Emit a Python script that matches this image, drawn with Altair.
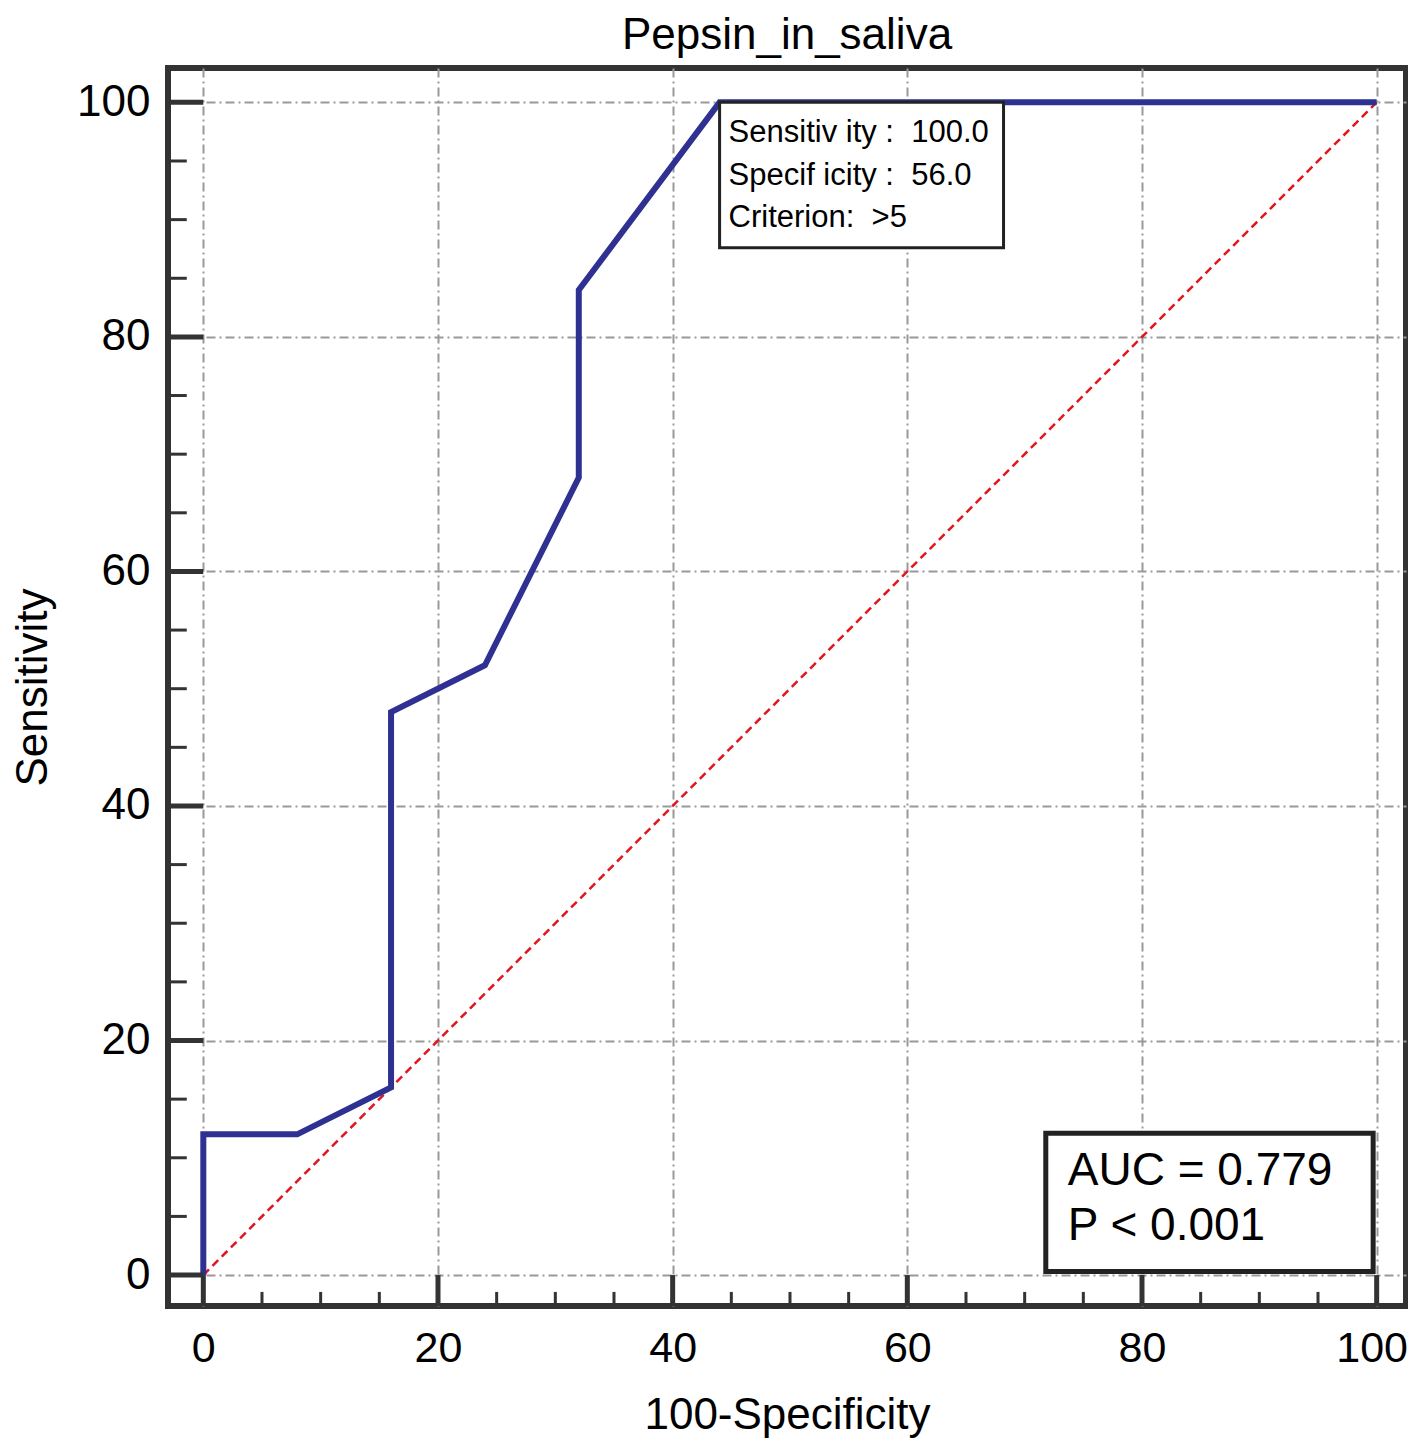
import altair as alt
import pandas as pd

# ---- data ----
fpr = [0, 0, 8, 16, 16, 24, 32, 32, 44, 100]
tpr = [0, 12, 12, 16, 48, 52, 68, 84, 100, 100]
diag_x = [0, 100]
diag_y = [0, 100]
major_ticks = [0, 20, 40, 60, 80, 100]
minor_ticks = [5, 10, 15, 25, 30, 35, 45, 50, 55, 65, 70, 75, 85, 90, 95]
info_lines = ["Sensitiv ity :\u00a0 100.0", "Specif icity :\u00a0 56.0", "Criterion:\u00a0 >5"]
auc_lines = ["AUC = 0.779", "P < 0.001"]
chart_title = "Pepsin_in_saliva"
x_title = "100-Specificity"
y_title = "Sensitivity"

# ---- layout / style constants ----
FONT = "Liberation Sans"
XMIN, XMAX = -3.01, 102.50
YMIN, YMAX = -2.64, 102.93
W, H = 1238, 1238
FRAME = "#333333"

xs = alt.Scale(domain=[XMIN, XMAX], nice=False, zero=False)
ys = alt.Scale(domain=[YMIN, YMAX], nice=False, zero=False)
xaxis = alt.Axis(values=major_ticks, grid=True, ticks=False, domain=False,
                 title=x_title, labelPadding=21, titlePadding=23,
                 labelOffset={"condition": {"test": "datum.value === 100", "value": -5}, "value": 0},
                 labelFontSize=43, titleFontSize=44, labelFont=FONT, titleFont=FONT,
                 titleFontWeight="normal", labelColor="black", titleColor="black",
                 gridColor="#999999", gridWidth=2, gridDash=[9, 4, 2, 4])
yaxis = alt.Axis(values=major_ticks, grid=True, ticks=False, domain=False,
                 title=y_title, labelPadding=18, titlePadding=21,
                 labelFontSize=44, titleFontSize=44, labelFont=FONT, titleFont=FONT,
                 titleFontWeight="normal", labelColor="black", titleColor="black",
                 gridColor="#999999", gridWidth=2, gridDash=[9, 4, 2, 4])


def X(f, **kw):
    return alt.X(f, scale=xs, axis=xaxis, **kw)


def Y(f, **kw):
    return alt.Y(f, scale=ys, axis=yaxis, **kw)


roc_df = pd.DataFrame({"x": fpr, "y": tpr, "step": list(range(len(fpr)))})
diag_df = pd.DataFrame({"x": diag_x, "y": diag_y})

xmaj = pd.DataFrame({"x": major_ticks, "y": [YMIN] * len(major_ticks), "y2": [0] * len(major_ticks)})
xmin_ = pd.DataFrame({"x": minor_ticks, "y": [YMIN] * len(minor_ticks), "y2": [YMIN + 1.2] * len(minor_ticks)})
ymaj = pd.DataFrame({"y": major_ticks, "x": [XMIN] * len(major_ticks), "x2": [0] * len(major_ticks)})
ymin_ = pd.DataFrame({"y": minor_ticks, "x": [XMIN] * len(minor_ticks), "x2": [XMIN + 1.6] * len(minor_ticks)})

base_grid = alt.Chart(roc_df).mark_point(opacity=0).encode(x=X("x:Q"), y=Y("y:Q"))

diag = alt.Chart(diag_df).mark_line(color="#e3141b", strokeWidth=2.5, strokeDash=[8, 5]).encode(
    x=X("x:Q"), y=Y("y:Q"))

roc = alt.Chart(roc_df).mark_line(color="#2e3192", strokeWidth=6, strokeJoin="miter").encode(
    x=X("x:Q"), y=Y("y:Q"), order="step:Q")

tick_xmaj = alt.Chart(xmaj).mark_rule(color=FRAME, strokeWidth=5).encode(x=X("x:Q"), y=Y("y:Q"), y2="y2:Q")
tick_xmin = alt.Chart(xmin_).mark_rule(color=FRAME, strokeWidth=3).encode(x=X("x:Q"), y=Y("y:Q"), y2="y2:Q")
tick_ymaj = alt.Chart(ymaj).mark_rule(color=FRAME, strokeWidth=5).encode(y=Y("y:Q"), x=X("x:Q"), x2="x2:Q")
tick_ymin = alt.Chart(ymin_).mark_rule(color=FRAME, strokeWidth=3).encode(y=Y("y:Q"), x=X("x:Q"), x2="x2:Q")

# info box (near the optimal criterion point)
info_box_df = pd.DataFrame({"x": [44.0], "x2": [68.2], "y": [87.6], "y2": [100.0]})
info_box = alt.Chart(info_box_df).mark_rect(fill="white", stroke="#222222", strokeWidth=3).encode(
    x=X("x:Q"), x2="x2:Q", y=Y("y:Q"), y2="y2:Q")
info_txt_df = pd.DataFrame({"t": info_lines, "x": [44.0] * 3, "y": [97.4 - 3.65 * i for i in range(3)]})
info_txt = alt.Chart(info_txt_df).mark_text(align="left", baseline="middle", dx=9, fontSize=31,
                                             font=FONT, color="black").encode(
    x=X("x:Q"), y=Y("y:Q"), text="t:N")

auc_box_df = pd.DataFrame({"x": [71.8], "x2": [99.7], "y": [0.3], "y2": [12.1]})
auc_box = alt.Chart(auc_box_df).mark_rect(fill="white", stroke="#222222", strokeWidth=5).encode(
    x=X("x:Q"), x2="x2:Q", y=Y("y:Q"), y2="y2:Q")
auc_txt_df = pd.DataFrame({"t": auc_lines, "x": [71.8] * 2, "y": [8.9, 4.2]})
auc_txt = alt.Chart(auc_txt_df).mark_text(align="left", baseline="middle", dx=22, fontSize=46,
                                           font=FONT, color="black").encode(
    x=X("x:Q"), y=Y("y:Q"), text="t:N")

chart = alt.layer(
    base_grid, diag, roc, tick_xmaj, tick_xmin, tick_ymaj, tick_ymin,
    info_box, info_txt, auc_box, auc_txt
).properties(
    width=W, height=H,
    title=alt.Title(chart_title, fontSize=44, font=FONT, fontWeight="normal", color="black",
                    anchor="middle", offset=10),
    autosize=alt.AutoSizeParams(type="none"),
    padding={"left": 160, "top": 60, "right": 2, "bottom": 132},
    background="white",
).configure_view(stroke=FRAME, strokeWidth=6)

chart.save("out.html", embed_options={"renderer": "svg", "actions": False})
